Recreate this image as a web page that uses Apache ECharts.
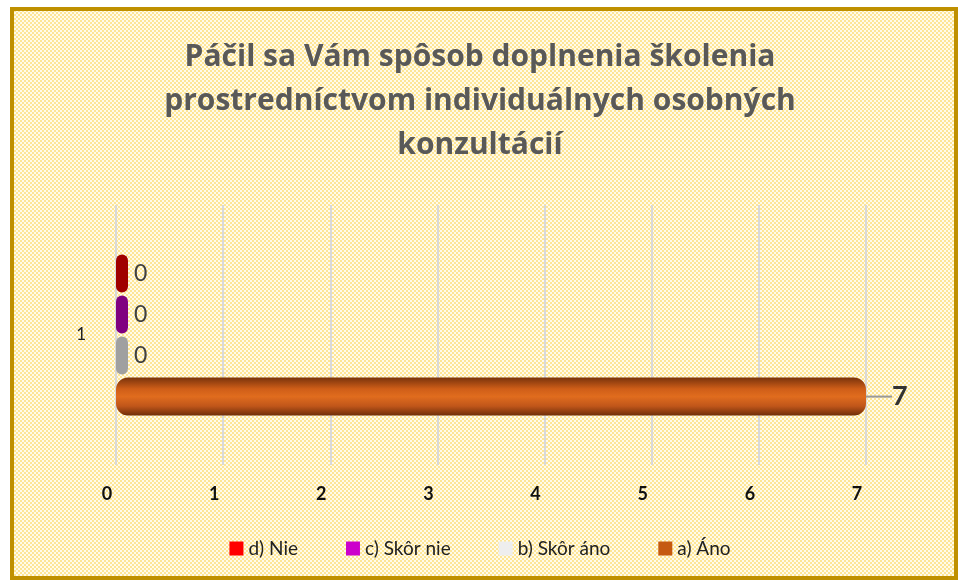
<!DOCTYPE html>
<html lang="sk">
<head>
<meta charset="UTF-8">
<script src="https://cdn.jsdelivr.net/npm/echarts@6/dist/echarts.min.js"></script>
<title>Páčil sa Vám spôsob doplnenia školenia</title>
<style>body{margin:0;background:#fff}</style>
</head>
<body>
<div id="chart" style="width:960px;height:582px;"></div>
<script>
// data (top-to-bottom order of the bars)
var categories = ['1'];
var seriesNames = ['d) Nie', 'c) Skôr nie', 'b) Skôr áno', 'a) Áno'];
var seriesValues = [[0], [0], [0], [7]];
var barColors = ['#A00000', '#800080', '#A0A0A0', '#D2611A'];
var legendColors = ['#FF0000', '#CC00CC', '#EEEEEE', '#C55A11'];
var xTicks = [0, 1, 2, 3, 4, 5, 6, 7];

// dotted background
var pat = document.createElement('canvas');
pat.width = 4; pat.height = 4;
var pc = pat.getContext('2d');
pc.fillStyle = '#FFFBEA'; pc.fillRect(0, 0, 4, 4);
pc.fillStyle = '#FDE596'; pc.fillRect(0, 0, 2, 2); pc.fillRect(2, 2, 2, 2);

var cylinder = {
	type: 'linear', x: 0, y: 0, x2: 0, y2: 1,
	colorStops: [
		{offset: 0, color: '#7A330C'},
		{offset: 0.3, color: '#CF5E18'},
		{offset: 0.5, color: '#E06C1E'},
		{offset: 0.75, color: '#C0561A'},
		{offset: 1, color: '#6E2E0A'}
	]
};

var series = seriesNames.map(function (name, i) {
	var isMain = seriesValues[i][0] > 0;
	return {
		name: name,
		type: 'bar',
		data: seriesValues[i],
		barGap: '8%',
		barCategoryGap: '38%',
		barMinHeight: isMain ? 0 : 12,
		itemStyle: {
			color: isMain ? cylinder : barColors[i],
			borderRadius: isMain ? 12 : 6
		},
		label: {
			show: true,
			position: 'right',
			distance: isMain ? 26 : 6,
			fontFamily: 'Lato',
			fontWeight: isMain ? 'bold' : 'normal',
			fontSize: isMain ? 27 : 23,
			color: isMain ? '#333' : '#404040'
		},
		labelLine: isMain ? {show: true, lineStyle: {color: '#999', width: 2}} : undefined,
		labelLayout: isMain ? {dx: 0} : undefined
	};
});

var chart = echarts.init(document.getElementById('chart'));
chart.setOption({
	animation: false,
	graphic: [{
		type: 'rect',
		z: -10,
		shape: {x: 12, y: 9, width: 944, height: 569},
		style: {fill: {image: pat, repeat: 'repeat'}, stroke: '#BF9000', lineWidth: 4}
	}],
	title: {
		text: 'Páčil sa Vám spôsob doplnenia školenia\nprostredníctvom individuálnych osobných\nkonzultácií',
		left: 'center',
		top: 30,
		textStyle: {
			fontFamily: 'Open Sans',
			fontWeight: 'bold',
			fontSize: 30,
			lineHeight: 44,
			color: '#595959'
		}
	},
	legend: {
		bottom: 19,
		left: 'center',
		itemWidth: 14,
		itemHeight: 14,
		itemGap: 48,
		icon: 'rect',
		textStyle: {fontFamily: 'Lato', fontSize: 19, color: '#222'},
		data: seriesNames.map(function (n, i) {
			return {name: n, itemStyle: {color: legendColors[i]}};
		})
	},
	grid: {left: 116, right: 94, top: 205, bottom: 117},
	xAxis: {
		type: 'value',
		min: 0,
		max: 7,
		interval: 1,
		axisLine: {show: false},
		axisTick: {show: false},
		splitLine: {lineStyle: {color: '#D9D9D9', width: 2}},
		axisLabel: {
			margin: 20,
			padding: [0, 18, 0, 0],
			fontFamily: 'Lato',
			fontWeight: 'bold',
			fontSize: 18,
			color: '#111',
			formatter: function (v) { return xTicks.indexOf(v) >= 0 ? String(v) : ''; }
		}
	},
	yAxis: {
		type: 'category',
		data: categories,
		axisLine: {show: false},
		axisTick: {show: false},
		axisLabel: {margin: 30, fontFamily: 'Lato', fontSize: 17, color: '#222'}
	},
	series: series
});
</script>
</body>
</html>
